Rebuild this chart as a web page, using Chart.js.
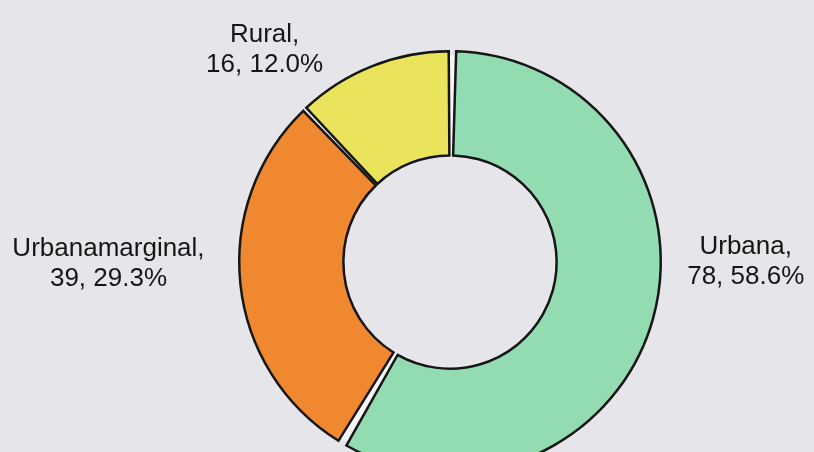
<!DOCTYPE html>
<html>
<head>
<meta charset="utf-8">
<script src="https://cdn.jsdelivr.net/npm/chart.js@4/dist/chart.umd.min.js"></script>
<style>
  html, body { margin: 0; padding: 0; overflow: hidden; background: #e6e5ea; }
  #wrap { position: absolute; left: 0; top: 0; width: 814px; height: 524px; }
</style>
</head>
<body>
<div id="wrap"><canvas id="areaChart" width="814" height="524"></canvas></div>
<script>
const categories = ['Urbana', 'Urbanamarginal', 'Rural'];
const counts = [78, 39, 16];
const sliceColors = ['#93dcb2', '#f0882f', '#e9e45c'];

const total = counts.reduce((a, b) => a + b, 0);

// white strip behind the slices so the gaps look light, like the original
const gapFill = {
  id: 'gapFill',
  beforeDatasetsDraw(chart) {
    const arc = chart.getDatasetMeta(0).data[0];
    if (!arc) return;
    const ctx = chart.ctx;
    ctx.save();
    ctx.beginPath();
    ctx.arc(arc.x, arc.y, arc.outerRadius - 1, 0, Math.PI * 2);
    ctx.arc(arc.x, arc.y, arc.innerRadius + 1, Math.PI * 2, 0, true);
    ctx.fillStyle = '#f6f6f6';
    ctx.fill();
    ctx.restore();
  }
};

// outside labels "Name,\nvalue, pct%" placed in radius units from the centre
const sliceLabels = {
  id: 'sliceLabels',
  afterDatasetsDraw(chart, args, opts) {
    const meta = chart.getDatasetMeta(0);
    const ctx = chart.ctx;
    ctx.save();
    ctx.font = opts.font;
    ctx.fillStyle = opts.color;
    ctx.textAlign = 'center';
    ctx.textBaseline = 'middle';
    meta.data.forEach((arc, i) => {
      const pos = opts.anchors[i];
      const x = arc.x + pos[0] * arc.outerRadius;
      const y = arc.y + pos[1] * arc.outerRadius;
      const pct = (counts[i] / total * 100).toFixed(1);
      ctx.fillText(categories[i] + ',', x, y - opts.lineHeight / 2);
      ctx.fillText(counts[i] + ', ' + pct + '%', x, y + opts.lineHeight / 2);
    });
    ctx.restore();
  }
};

const ctx = document.getElementById('areaChart').getContext('2d');
const chart = new Chart(ctx, {
  type: 'doughnut',
  data: {
    labels: categories,
    datasets: [{
      data: counts,
      backgroundColor: sliceColors,
      borderColor: '#161616',
      borderWidth: 2.5,
      borderJoinStyle: 'miter',
      spacing: 5
    }]
  },
  options: {
    responsive: false,
    animation: false,
    cutout: '50%',
    layout: { padding: { top: 50, bottom: 50, left: 238, right: 152 } },
    plugins: {
      legend: { display: false },
      tooltip: { enabled: false },
      sliceLabels: {
        font: '26px "Liberation Sans", Arial, sans-serif',
        color: '#161616',
        lineHeight: 30,
        anchors: [[1.42, 0.0], [-1.64, 0.01], [-0.89, -1.02]]
      }
    }
  },
  plugins: [gapFill, sliceLabels]
});
</script>
</body>
</html>
